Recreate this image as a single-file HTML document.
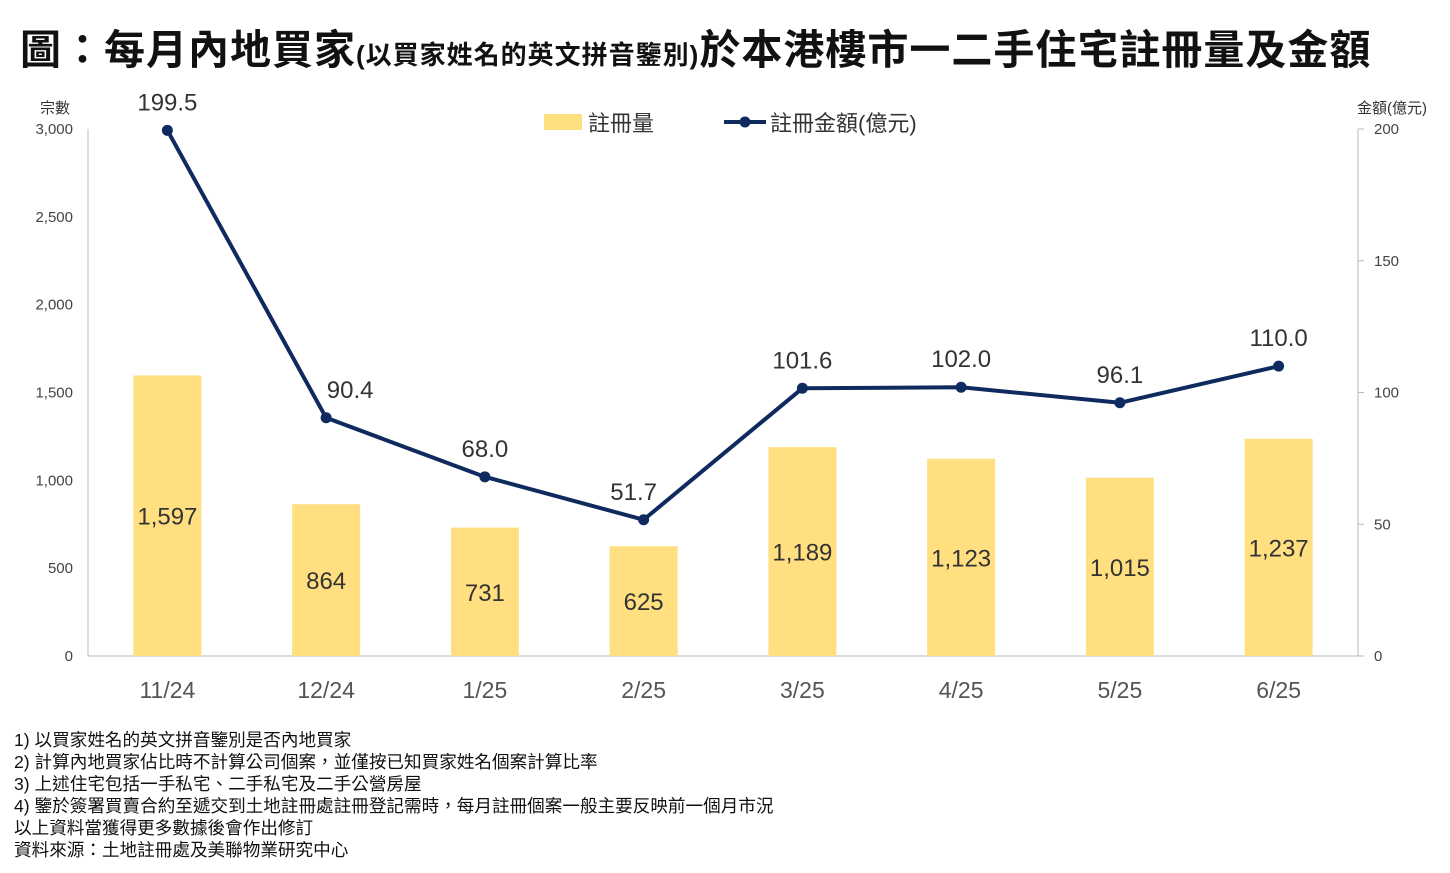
<!DOCTYPE html>
<html><head><meta charset="utf-8"><style>
body{margin:0;width:1450px;height:873px;background:#fff;overflow:hidden;font-family:"Liberation Sans","Noto Sans CJK TC",sans-serif;}
#title{position:absolute;left:20px;top:16px;font-size:41px;font-weight:bold;color:#111;white-space:nowrap;letter-spacing:1px}
#title small{font-size:26px}
.note{position:absolute;left:14px;font-size:17.6px;color:#111;white-space:nowrap}
</style></head><body>
<div id="title">圖：每月內地買家<small>(以買家姓名的英文拼音鑒別)</small>於本港樓市一二手住宅註冊量及金額</div>
<svg id="chart" width="1450" height="873" style="position:absolute;left:0;top:0"></svg>
<div class="note" style="top:727px">1) 以買家姓名的英文拼音鑒別是否內地買家</div>
<div class="note" style="top:749px">2) 計算內地買家佔比時不計算公司個案，並僅按已知買家姓名個案計算比率</div>
<div class="note" style="top:771px">3) 上述住宅包括一手私宅、二手私宅及二手公營房屋</div>
<div class="note" style="top:793px">4) 鑒於簽署買賣合約至遞交到土地註冊處註冊登記需時，每月註冊個案一般主要反映前一個月市況</div>
<div class="note" style="top:815px">以上資料當獲得更多數據後會作出修訂</div>
<div class="note" style="top:837px">資料來源：土地註冊處及美聯物業研究中心</div>
<script>
const categories=["11/24","12/24","1/25","2/25","3/25","4/25","5/25","6/25"];
const volumes=[1597,864,731,625,1189,1123,1015,1237];
const amounts=[199.5,90.4,68.0,51.7,101.6,102.0,96.1,110.0];
const leftTicks=[0,500,1000,1500,2000,2500,3000];
const rightTicks=[0,50,100,150,200];
const svg=document.getElementById('chart');
const NS='http://www.w3.org/2000/svg';
const X0=88,X1=1358,Y0=656,Y1=129;
const bw=(X1-X0)/categories.length;
const xc=i=>X0+bw*(i+0.5);
const yl=v=>Y0-(v/3000)*(Y0-Y1);
const yr=v=>Y0-(v/200)*(Y0-Y1);
function mk(tag,attrs,txt){const e=document.createElementNS(NS,tag);for(const k in attrs)e.setAttribute(k,attrs[k]);if(txt!==undefined)e.textContent=txt;svg.appendChild(e);return e;}
let a=mk('line',{x1:X0,y1:Y1,x2:X0,y2:Y0,stroke:'#bbb'});

a=mk('line',{x1:X1,y1:Y1,x2:X1,y2:Y0,stroke:'#bbb'});

a=mk('line',{x1:X0,y1:Y0,x2:X1,y2:Y0,stroke:'#bbb'});

leftTicks.forEach(v=>{const t=mk('text',{x:73,y:yl(v)+5,'text-anchor':'end','font-size':15,fill:'#444'},v.toLocaleString('en-US'));
});
rightTicks.forEach(v=>{const t=mk('text',{x:1374,y:yr(v)+5,'font-size':15,fill:'#444'},v);

mk('line',{x1:X1,y1:yr(v),x2:X1+6,y2:yr(v),stroke:'#bbb'});});
let t=mk('text',{x:40,y:113,'font-size':15,fill:'#333'},'宗數');
t=mk('text',{x:1357,y:113,'font-size':15,fill:'#333'},'金額(億元)');
volumes.forEach((v,i)=>{const r=mk('rect',{x:xc(i)-34,y:yl(v),width:68,height:Y0-yl(v),fill:'#FFDF80'});

const l=mk('text',{x:xc(i),y:(yl(v)+Y0)/2+9,'text-anchor':'middle','font-size':24,fill:'#333'},v.toLocaleString('en-US'));

const c=mk('text',{x:xc(i),y:698,'text-anchor':'middle','font-size':23,fill:'#555'},categories[i]);
});
const pl=mk('polyline',{points:amounts.map((v,i)=>xc(i)+','+yr(v)).join(' '),fill:'none',stroke:'#0E2A5E','stroke-width':4,'stroke-linejoin':'round'});

amounts.forEach((v,i)=>{const p=mk('circle',{cx:xc(i),cy:yr(v),r:5.5,fill:'#0E2A5E'});

const dx=(i===1)?24:(i===3?-10:0);
const l=mk('text',{x:xc(i)+dx,y:yr(v)-20,'text-anchor':'middle','font-size':24,fill:'#333'},v.toFixed(1));
});
let g=mk('rect',{x:544,y:114,width:38,height:16,fill:'#FFDF80'});
g=mk('text',{x:588,y:131,'font-size':22,fill:'#333'},'註冊量');
g=mk('line',{x1:724,y1:122,x2:766,y2:122,stroke:'#0E2A5E','stroke-width':4});
mk('circle',{cx:745,cy:122,r:5.5,fill:'#0E2A5E'});
g=mk('text',{x:770,y:131,'font-size':22,fill:'#333'},'註冊金額(億元)');
</script>
</body></html>
